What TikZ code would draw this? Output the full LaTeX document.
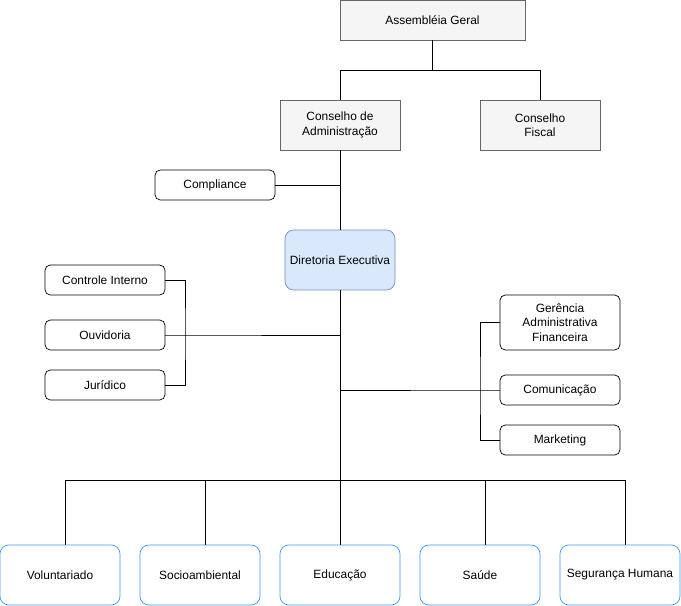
\documentclass[tikz,border=0pt]{standalone}
\usepackage{fontspec}
\setmainfont{Liberation Sans}
\usetikzlibrary{positioning,calc}
\definecolor{grayfill}{HTML}{F5F5F5}
\definecolor{grayline}{HTML}{666666}
\definecolor{bluefill}{HTML}{DAE8FC}
\definecolor{blueline}{HTML}{6C8EBF}
\definecolor{brightblue}{HTML}{3399FF}
\tikzset{
	box/.style={draw=grayline,fill=grayfill,minimum width=#1,minimum height=1cm,align=center,inner sep=1pt,font=\fontsize{6.8}{8.2}\selectfont},
	unit/.style={draw=black,fill=white,rounded corners=3pt,minimum width=2.4cm,minimum height=#1,align=center,inner sep=1pt,font=\fontsize{6.8}{8.2}\selectfont},
	area/.style={draw=brightblue,fill=white,rounded corners=5pt,minimum width=2.4cm,minimum height=1.2cm,font=\fontsize{6.8}{8.2}\selectfont},
	link/.style={draw=black,line width=0.5pt}
}
\begin{document}
\begin{tikzpicture}[x=0.02cm,y=-0.02cm]
				\useasboundingbox (0,0) rectangle (681,606);
				%%% top
				\node[box=3.7cm,minimum height=0.8cm] (ag) at (432.5,20) {Assembléia Geral};
				\node[box=2.4cm] (ca) at (340,125) {Conselho de\\Administração};
				\node[box=2.4cm] (cf) at (540,125) {Conselho\\Fiscal};
				\node[unit=0.6cm] (comp) at (215,185) {Compliance};
				\node[unit=1.2cm,draw=blueline,fill=bluefill,minimum width=2.2cm,rounded corners=5pt] (de) at (340,260) {Diretoria Executiva};
				
				%%% left group
				\node[unit=0.6cm] (ci) at (105,280) {Controle Interno};
				\node[unit=0.6cm] (ouv) at (105,335) {Ouvidoria};
				\node[unit=0.6cm] (jur) at (105,385) {Jurídico};
				
				%%% right group
				\node[unit=1.1cm] (gaf) at (560,322.5) {Gerência\\Administrativa\\Financeira};
				\node[unit=0.6cm] (com) at (560,390) {Comunicação};
				\node[unit=0.6cm] (mkt) at (560,440) {Marketing};
				
				%%% areas
				\node[area] (vol) at (60,575) {Voluntariado};
				\node[area] (soc) at (200,575) {Socioambiental};
				\node[area] (edu) at (340,575) {Educação};
				\node[area] (sau) at (480,575) {Saúde};
				\node[area] (seg) at (620,575) {Segurança Humana};
				
				\coordinate (top) at (432.5,70);
				\draw[link] (ag.south) -- (top) -| (ca.north);
				\draw[link] (top) -| (cf.north);
				\draw[link] (ca.south) -- (de.north);
				\draw[link] (comp.east) -- (comp.east -| ca.south);
				\draw[link] (de.south) -- (edu.north);
				
				\coordinate (lb) at (185,335);
				\draw[link] (ci.east) -| (lb) |- (jur.east);
				\draw[link] (ouv.east) -- (lb) -- (lb -| de.south);
				\coordinate (rb) at (480,390);
				\draw[link] (gaf.west) -| (rb) |- (mkt.west);
				\draw[link] (com.west) -- (rb) -- (rb -| de.south);
				
				\coordinate (bar) at (340,480);
				\draw[link] ([xshift=0.1cm]bar -| vol.north) -- ([xshift=0.1cm]bar -| seg.north);
				\foreach \n in {vol,soc,sau,seg}
				\draw[link] ([xshift=0.1cm]bar -| \n.north) -- ([xshift=0.1cm]\n.north);
\end{tikzpicture}
\end{document}
